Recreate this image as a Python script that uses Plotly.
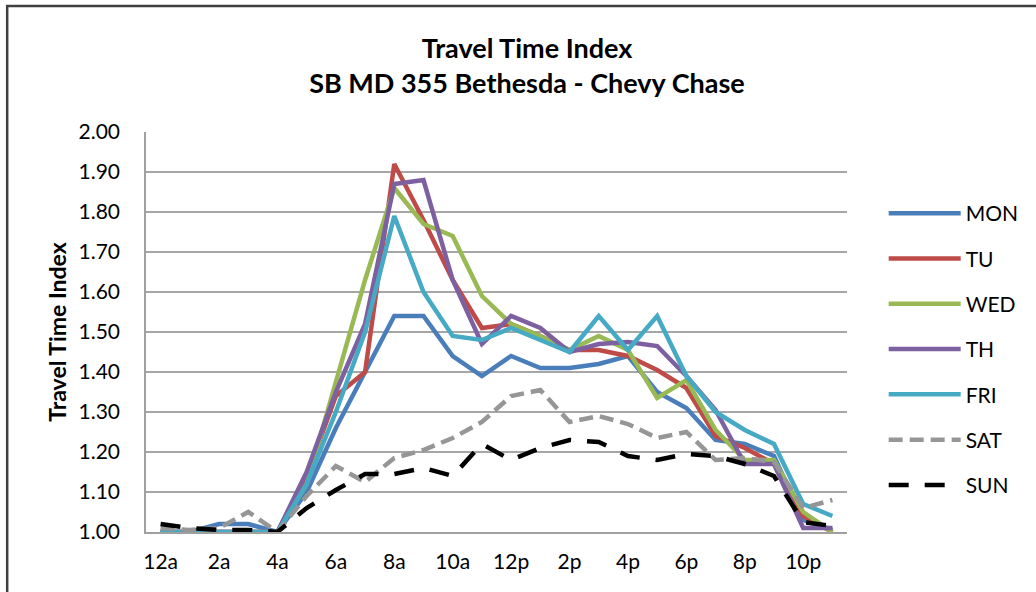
import plotly.graph_objects as go

hours = list(range(24))
tick_hours = [0, 2, 4, 6, 8, 10, 12, 14, 16, 18, 20, 22]
tick_labels = ["12a", "2a", "4a", "6a", "8a", "10a", "12p", "2p", "4p", "6p", "8p", "10p"]

mon = [1.00, 1.00, 1.02, 1.02, 1.00, 1.10, 1.26, 1.40, 1.54, 1.54, 1.44, 1.39,
       1.44, 1.41, 1.41, 1.42, 1.44, 1.35, 1.31, 1.23, 1.22, 1.19, 1.03, 1.005]
tu = [1.00, 1.00, 1.00, 1.00, 1.00, 1.14, 1.34, 1.40, 1.92, 1.78, 1.63, 1.51,
      1.52, 1.49, 1.455, 1.455, 1.44, 1.405, 1.36, 1.24, 1.21, 1.17, 1.04, 1.00]
wed = [1.00, 1.00, 1.00, 1.00, 1.00, 1.12, 1.37, 1.63, 1.86, 1.77, 1.74, 1.59,
       1.52, 1.49, 1.455, 1.49, 1.455, 1.335, 1.38, 1.255, 1.18, 1.18, 1.05, 1.00]
th = [1.00, 1.00, 1.00, 1.00, 1.00, 1.15, 1.35, 1.52, 1.87, 1.88, 1.63, 1.47,
      1.54, 1.51, 1.45, 1.47, 1.475, 1.465, 1.39, 1.305, 1.17, 1.17, 1.01, 1.01]
fri = [1.00, 1.00, 1.00, 1.00, 1.00, 1.12, 1.30, 1.50, 1.79, 1.60, 1.49, 1.48,
       1.51, 1.48, 1.45, 1.54, 1.455, 1.54, 1.39, 1.30, 1.255, 1.22, 1.07, 1.04]
sat = [1.01, 1.005, 1.01, 1.05, 1.00, 1.09, 1.165, 1.125, 1.185, 1.205, 1.235, 1.275,
       1.34, 1.355, 1.275, 1.29, 1.27, 1.235, 1.25, 1.18, 1.185, 1.175, 1.06, 1.08]
sun = [1.02, 1.01, 1.005, 1.005, 1.00, 1.06, 1.105, 1.145, 1.145, 1.16, 1.14, 1.22,
       1.18, 1.21, 1.23, 1.225, 1.19, 1.18, 1.195, 1.19, 1.17, 1.14, 1.025, 1.015]

series = [
    ("MON", mon, "#4A7EBB", "solid"),
    ("TU", tu, "#BE4B48", "solid"),
    ("WED", wed, "#98B954", "solid"),
    ("TH", th, "#7D60A0", "solid"),
    ("FRI", fri, "#46AAC5", "solid"),
    ("SAT", sat, "#969696", "14px,7px"),
    ("SUN", sun, "#000000", "20px,16px"),
]

FONT = "Lato"

fig = go.Figure()
for name, vals, color, dash in series:
    fig.add_trace(go.Scatter(
        x=hours, y=vals, name=name, mode="lines",
        line=dict(color=color, width=4.5, dash=dash),
        legendgroup=name, cliponaxis=False,
    ))

L, R, T, B = 146, 183, 132, 60
W, H = 1036, 592
pw, ph = W - L - R, H - T - B

fig.update_layout(
    width=W, height=H,
    margin=dict(l=L, r=R, t=T, b=B),
    paper_bgcolor="white", plot_bgcolor="white",
    font=dict(family=FONT, size=20, color="#000000"),
    title=dict(
        text="<b>Travel Time Index</b><br><b>SB MD 355 Bethesda - Chevy Chase</b>",
        x=527 / W, xanchor="center", y=1 - 58 / H, yanchor="middle",
        font=dict(family=FONT, size=27, color="#000000"),
    ),
    xaxis=dict(
        range=[-0.5, 23.5], tickmode="array", tickvals=tick_hours, ticktext=tick_labels,
        showgrid=False, showline=True, linecolor="#A0A0A0", linewidth=1.5,
        ticks="", ticklabelstandoff=10, zeroline=False,
        tickfont=dict(family=FONT, size=21, color="#000000"),
    ),
    yaxis=dict(
        range=[1.0, 2.0], tickmode="linear", tick0=1.0, dtick=0.1, tickformat=".2f",
        showgrid=True, gridcolor="#A6A6A6", gridwidth=1.5,
        showline=True, linecolor="#A0A0A0", linewidth=1.5,
        ticks="", ticklabelstandoff=20, zeroline=False,
        tickfont=dict(family=FONT, size=21, color="#000000"),
        title=dict(text="<b>Travel Time Index</b>", standoff=5,
                   font=dict(family=FONT, size=23, color="#000000")),
    ),
    legend=dict(
        x=(890 - L) / pw, xanchor="left", y=1 - (193 - T) / ph, yanchor="top",
        font=dict(family=FONT, size=21, color="#000000"),
        tracegroupgap=15, bgcolor="rgba(0,0,0,0)", itemwidth=72,
    ),
    shapes=[dict(
        type="rect", xref="paper", yref="paper",
        x0=(6 - L) / pw, x1=(1045 - L) / pw,
        y0=-(610 - (H - B)) / ph, y1=1 + (T - 6) / ph,
        line=dict(color="#404040", width=2.5), fillcolor="rgba(0,0,0,0)", layer="below",
    )],
)

fig.write_html("out.html")
